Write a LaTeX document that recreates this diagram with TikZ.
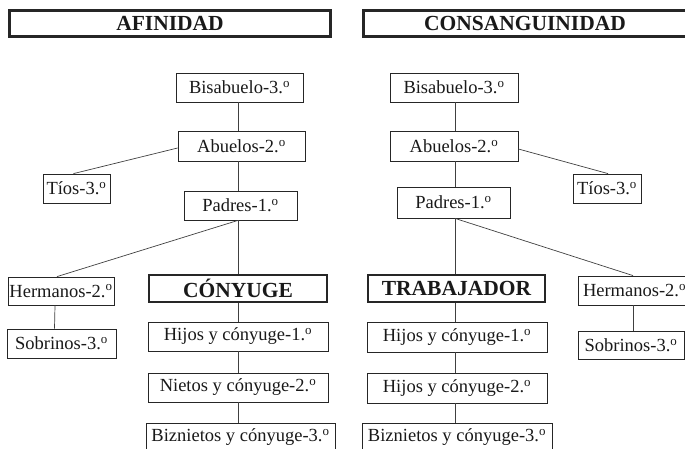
\documentclass[tikz,border=0pt]{standalone}
\usepackage{fontspec}
\setmainfont{Liberation Serif}
\newcommand{\gradoo}{\textsuperscript{o}}
\tikzset{
  bx/.style={draw=black!85, line width=0.8pt, inner sep=0pt, text=black!90,
    font=\fontsize{18.5}{22}\selectfont},
  tbx/.style={draw=black!85, line width=2.6pt, inner sep=0pt, text=black!90,
    font=\fontsize{21.5}{24}\selectfont\bfseries},
  ln/.style={draw=black!75, line width=0.7pt}
}
\begin{document}
\begin{tikzpicture}[x=1pt,y=-1pt]
\useasboundingbox (0,0) rectangle (685,449);
\clip (0,0) rectangle (685,449);
% headers
\node[tbx, minimum width=321pt, minimum height=26pt] (af) at (170,23.5) {AFINIDAD};
\node[tbx, minimum width=323pt, minimum height=26pt] (co) at (525,23.5) {CONSANGUINIDAD};
% left tree
\node[bx, minimum width=127pt, minimum height=29pt] (bisL) at (239.5,87.5) {Bisabuelo-3.\gradoo};
\node[bx, minimum width=127pt, minimum height=30pt] (abuL) at (241.5,146) {Abuelos-2.\gradoo};
\node[bx, minimum width=67pt, minimum height=29pt] (tioL) at (76.5,188.5) {Tíos-3.\gradoo};
\node[bx, minimum width=113pt, minimum height=29pt] (padL) at (240.5,205.5) {Padres-1.\gradoo};
\node[bx, minimum width=106pt, minimum height=28pt] (herL) at (61,291) {Hermanos-2.\gradoo};
\node[tbx, minimum width=178pt, minimum height=27pt] (cony) at (238,288.5) {CÓNYUGE};
\node[bx, minimum width=109pt, minimum height=29pt] (sobL) at (61.5,343.5) {Sobrinos-3.\gradoo};
\node[bx, minimum width=180pt, minimum height=29pt] (hijL) at (238,336.5) {Hijos y cónyuge-1.\gradoo};
\node[bx, minimum width=180pt, minimum height=29pt] (nieL) at (238,387.5) {Nietos y cónyuge-2.\gradoo};
\node[bx, minimum width=189pt, minimum height=29pt] (bizL) at (240.5,437.5) {Biznietos y cónyuge-3.\gradoo};
% right tree
\node[bx, minimum width=128pt, minimum height=29pt] (bisR) at (454,87.5) {Bisabuelo-3.\gradoo};
\node[bx, minimum width=128pt, minimum height=30pt] (abuR) at (454,146) {Abuelos-2.\gradoo};
\node[bx, minimum width=68pt, minimum height=29pt] (tioR) at (607,188.5) {Tíos-3.\gradoo};
\node[bx, minimum width=113pt, minimum height=31pt] (padR) at (453.5,202.5) {Padres-1.\gradoo};
\node[tbx, minimum width=177pt, minimum height=27pt] (trab) at (456.5,288.5) {TRABAJADOR};
\node[bx, minimum width=116pt, minimum height=29pt, text width=106pt, align=left] (herR) at (636,290.5) {Hermanos-2.\gradoo};
\node[bx, minimum width=106pt, minimum height=28pt] (sobR) at (631,345) {Sobrinos-3.\gradoo};
\node[bx, minimum width=180pt, minimum height=30pt] (hijR) at (457,337) {Hijos y cónyuge-1.\gradoo};
\node[bx, minimum width=180pt, minimum height=30pt] (hi2R) at (457,388) {Hijos y cónyuge-2.\gradoo};
\node[bx, minimum width=190pt, minimum height=29pt] (bizR) at (457,437.5) {Biznietos y cónyuge-3.\gradoo};
% left connectors
\coordinate (cL) at (238,0);
\draw[ln] (cL |- bisL.south) -- (cL |- abuL.north);
\draw[ln] (cL |- abuL.south) -- (cL |- padL.north);
\draw[ln] (cL |- padL.south) -- (cL |- cony.north);
\draw[ln] (cL |- cony.south) -- (cL |- hijL.north);
\draw[ln] (cL |- hijL.south) -- (cL |- nieL.north);
\draw[ln] (cL |- nieL.south) -- (cL |- bizL.north);
\draw[ln] ([yshift=-2pt]abuL.west) -- ([xshift=-3pt]tioL.north);
\draw[ln] (cL |- padL.south) -- ([xshift=-4pt]herL.north);
\draw[ln] ([xshift=-6pt]herL.south) -- ([xshift=-6.5pt]herL.south |- sobL.north);
% right connectors
\coordinate (cR) at (455,0);
\coordinate (cH) at (633,0);
\draw[ln] (cR |- bisR.south) -- (cR |- abuR.north);
\draw[ln] (cR |- abuR.south) -- (cR |- padR.north);
\draw[ln] (cR |- padR.south) -- (cR |- trab.north);
\draw[ln] (cR |- trab.south) -- (cR |- hijR.north);
\draw[ln] (cR |- hijR.south) -- (cR |- hi2R.north);
\draw[ln] (cR |- hi2R.south) -- (cR |- bizR.north);
\draw[ln] ([yshift=-3pt]abuR.east) -- ([xshift=1pt]tioR.north);
\draw[ln] (cR |- padR.south) -- (cH |- herR.north);
\draw[ln] (cH |- herR.south) -- (cH |- sobR.north);
\end{tikzpicture}
\end{document}
